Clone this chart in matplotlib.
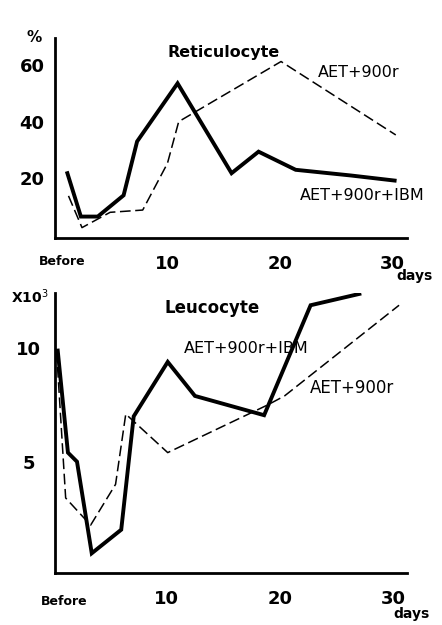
import matplotlib
matplotlib.use("Agg")
import matplotlib.pyplot as plt

# ---- data ----
ret_ibm_days = [1.1, 2.3, 3.8, 6.1, 7.3, 10.9, 15.7, 18.1, 21.4, 26.3, 30.2]
ret_ibm_vals = [21.8, 6.5, 6.5, 14, 33, 53.5, 21.8, 29.4, 23, 21, 19.2]
ret_aet_days = [1.2, 2.4, 4.9, 7.8, 10.0, 11.0, 20.1, 30.3]
ret_aet_vals = [13.8, 2.6, 8, 8.8, 25.3, 40, 61.2, 35.3]

leu_ibm_days = [0.4, 1.3, 2.1, 3.4, 6.0, 7.1, 10.1, 12.5, 18.6, 22.7, 27.0]
leu_ibm_vals = [9.9, 5.4, 5.0, 0.96, 2.0, 7.0, 9.4, 7.9, 7.05, 11.9, 12.4]
leu_aet_days = [0.3, 1.1, 3.3, 5.5, 6.4, 10.1, 18.9, 20.4, 30.5]
leu_aet_vals = [9.85, 3.4, 2.2, 4.0, 7.1, 5.4, 7.5, 7.9, 11.9]

xtick_pos = [10, 20, 30]
xtick_labels = ["10", "20", "30"]
ret_yticks = [20, 40, 60]
leu_yticks = [5, 10]

fig = plt.figure(figsize=(4.42, 6.25), dpi=100)
W, H = 442, 625

def add_ax(l, t, r, b):
    return fig.add_axes([l / W, 1 - b / H, (r - l) / W, (b - t) / H])

def style(ax, ypad):
    for s in ["top", "right"]:
        ax.spines[s].set_visible(False)
    for s in ["left", "bottom"]:
        ax.spines[s].set_linewidth(2.0)
    ax.tick_params(length=0)
    ax.tick_params(axis="x", pad=12, labelsize=13)
    ax.tick_params(axis="y", pad=ypad, labelsize=13)
    for lab in ax.get_xticklabels() + ax.get_yticklabels():
        lab.set_fontweight("bold")
    for lab in ax.get_yticklabels():
        lab.set_horizontalalignment("center")

solid_kw = dict(color="black", lw=2.8, solid_joinstyle="miter")
dash_kw = dict(color="black", lw=1.1, dashes=(7, 3))

# ---- top: Reticulocyte ----
ax1 = add_ax(55, 38, 407, 238)
ax1.plot(ret_ibm_days, ret_ibm_vals, **solid_kw)
ax1.plot(ret_aet_days, ret_aet_vals, **dash_kw)
ax1.set_xlim(0.0, 31.3)
ax1.set_ylim(-1.06, 69.5)
ax1.set_xticks(xtick_pos, xtick_labels)
ax1.set_yticks(ret_yticks, [str(v) for v in ret_yticks])
style(ax1, 16.5)
ax1.text(0.67, -9.5, "Before", ha="center", va="center", fontsize=9, fontweight="bold", clip_on=False)
ax1.text(32.0, -14.5, "days", ha="center", va="center", fontsize=10, fontweight="bold", clip_on=False)
ax1.text(15.0, 64.5, "Reticulocyte", ha="center", va="center", fontsize=11.5, fontweight="bold")
ax1.text(27.0, 57.5, "AET+900r", ha="center", va="center", fontsize=11.5)
ax1.text(27.3, 13.8, "AET+900r+IBM", ha="center", va="center", fontsize=11.5)
fig.text(34 / W, 1 - 37 / H, "%", ha="center", va="center", fontsize=11, fontweight="bold")

# ---- bottom: Leucocyte ----
ax2 = add_ax(55, 293, 407, 573)
ax2.plot(leu_ibm_days, leu_ibm_vals, **solid_kw)
ax2.plot(leu_aet_days, leu_aet_vals, **dash_kw)
ax2.set_xlim(0.16, 31.2)
ax2.set_ylim(0.09, 12.44)
ax2.set_xticks(xtick_pos, xtick_labels)
ax2.set_yticks(leu_yticks, [str(v) for v in leu_yticks])
style(ax2, 19)
ax2.text(0.95, -1.15, "Before", ha="center", va="center", fontsize=9, fontweight="bold", clip_on=False)
ax2.text(31.6, -1.7, "days", ha="center", va="center", fontsize=10, fontweight="bold", clip_on=False)
ax2.text(14.0, 11.8, "Leucocyte", ha="center", va="center", fontsize=12, fontweight="bold")
ax2.text(17.0, 10.0, "AET+900r+IBM", ha="center", va="center", fontsize=11.5)
ax2.text(26.35, 8.25, "AET+900r", ha="center", va="center", fontsize=12)
fig.text(30 / W, 1 - 297 / H, r"X10$^3$", ha="center", va="center", fontsize=10, fontweight="bold")

fig.savefig("out.png", dpi=100)
